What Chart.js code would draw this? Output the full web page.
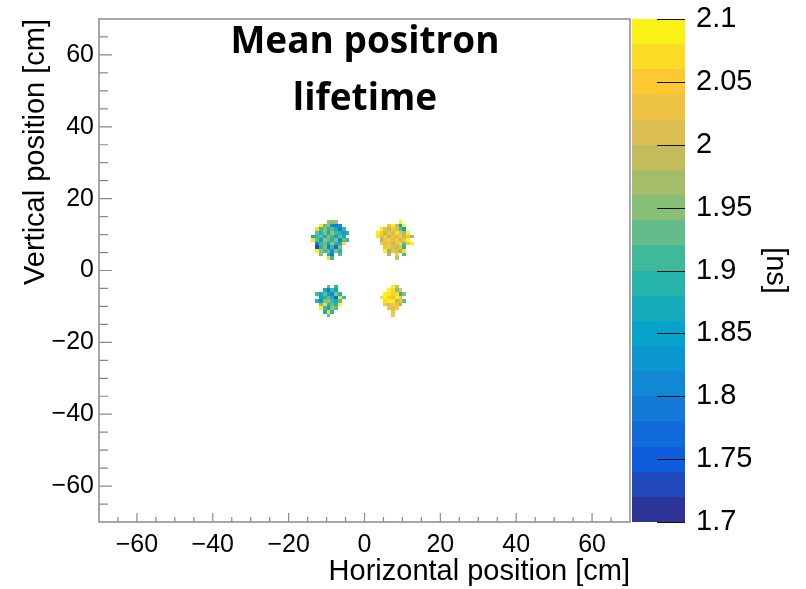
<!DOCTYPE html>
<html>
<head>
<meta charset="utf-8">
<script src="https://cdn.jsdelivr.net/npm/chart.js@4.4.0/dist/chart.umd.min.js"></script>
<style>
  html, body { margin: 0; padding: 0; background: #fff; }
</style>
</head>
<body>
<canvas id="mapa" width="806" height="589"></canvas>
<script>
// mean lifetime per 1 cm bin [ns], rows from top to bottom, null = empty bin
// origin = [left edge, top edge] of the first cell, in cm
const nwOrigin = [-14, 14];
const nwCells = [
  [null, null, null, null, 1.97, 1.95, 1.97, null, null, null],
  [null, null, 2.08, 1.92, 1.96, 1.80, 1.78, 1.82, null, null],
  [null, 2.07, 1.90, 1.94, 1.88, 1.93, 1.86, 1.79, 1.90, null],
  [null, 1.92, 1.88, 1.95, 1.86, 1.96, 1.91, 1.89, 1.84, 1.88],
  [1.86, 1.90, 1.93, 1.87, 1.95, 1.90, 1.85, 1.92, 1.87, null],
  [2.06, 1.92, 1.85, 1.96, 1.92, 1.88, 1.94, 1.80, 1.93, 1.90],
  [null, 1.78, 1.90, 1.93, 1.84, 1.97, 1.89, 1.86, 2.07, null],
  [null, 1.73, 1.88, 1.95, 1.79, 1.91, 1.76, 1.94, null, null],
  [null, 2.08, 1.96, 1.90, 1.93, 1.82, 1.95, 1.88, null, null],
  [null, null, 1.94, null, 1.88, 1.78, null, 1.92, null, null],
  [null, null, null, null, 2.07, 1.90, null, null, null, null]
];

const neOrigin = [3, 14];
const neCells = [
  [null, null, null, null, null, null, 2.09, null, null, null],
  [null, null, null, 2.03, 2.09, 1.99, 1.85, 2.08, null, null],
  [null, 2.08, 2.02, 1.98, 2.04, 2.01, 1.92, 1.84, null, null],
  [2.09, 2.05, 1.99, 2.03, 2.00, 2.06, 2.02, 1.97, 2.08, null],
  [2.07, 2.01, 2.04, 1.98, 2.03, 2.00, 2.05, 1.99, 2.02, 1.96],
  [null, 1.97, 2.02, 2.05, 2.01, 2.04, 1.98, 2.03, 2.09, null],
  [null, 2.04, 2.00, 2.03, 1.98, 2.02, 2.06, 1.93, 2.04, 2.08],
  [null, null, 2.02, 2.05, 2.01, 1.99, 2.03, 1.88, null, null],
  [null, null, 2.09, 1.95, 2.03, 2.01, 1.94, 2.07, null, null],
  [null, null, null, 1.96, null, 2.04, null, 1.91, null, null],
  [null, null, null, null, null, 2.00, null, null, null, null]
];

const swOrigin = [-13, -4];
const swCells = [
  [null, null, null, 1.92, null, 1.88, null, null],
  [null, null, 1.86, 1.78, 1.90, 1.84, null, null],
  [1.90, 1.87, 1.92, 1.85, 1.80, 1.94, 1.89, null],
  [null, 1.85, 1.88, 1.93, 1.87, 1.76, 2.07, 1.90],
  [1.88, 1.82, 1.95, 1.97, 1.90, 1.86, 1.92, null],
  [null, 1.95, 2.06, 1.89, 1.93, 1.88, 2.08, null],
  [null, 2.08, 1.90, 1.84, 1.96, 1.92, null, null],
  [null, null, 1.87, 2.07, 1.89, null, null, null],
  [null, null, null, 1.93, null, null, null, null]
];

const seOrigin = [4, -4];
const seCells = [
  [null, null, null, 2.08, 2.00, null, null],
  [null, null, 2.09, 2.06, 1.95, 2.03, null],
  [null, 2.08, 2.10, 2.04, 2.07, 1.88, 1.94],
  [2.07, 2.09, 2.05, 2.02, 2.08, 2.04, null],
  [null, 2.06, 2.09, 2.10, 1.98, 2.03, 1.92],
  [null, 2.04, 2.01, 2.05, 2.03, 1.97, null],
  [null, null, 2.03, 2.00, 2.05, null, null],
  [null, null, null, 2.02, null, null, null],
  [null, null, null, 2.04, null, null, null]
];

const axisTicks = [-60, -40, -20, 0, 20, 40, 60];
const zTicks = [1.7, 1.75, 1.8, 1.85, 1.9, 1.95, 2, 2.05, 2.1];
const zMin = 1.7, zMax = 2.1, zStep = 0.02;

// 20 contour colours, bottom (1.70) to top (2.10)
const palette = [
  '#2d3498', '#1e48bb', '#0f5cdd', '#116bda', '#137ad7',
  '#1188d4', '#0c96cf', '#06a4ca', '#16acbb', '#26b3ac',
  '#40b99b', '#63bc89', '#87bf77', '#a5bd6b', '#c2bc5f',
  '#dabe51', '#ecc342', '#fec832', '#fcdc24', '#faf115'
];

function colorFor(v) {
  let i = Math.floor((v - zMin) / zStep + 1e-9);
  i = Math.max(0, Math.min(palette.length - 1, i));
  return palette[i];
}

function toPoints(origin, rows) {
  const pts = [];
  rows.forEach((row, r) => row.forEach((v, c) => {
    if (v === null) return;
    pts.push({ x: origin[0] + c + 0.5, y: origin[1] - r - 0.5, v: v });
  }));
  return pts;
}

const puntos = [].concat(
  toPoints(nwOrigin, nwCells),
  toPoints(neOrigin, neCells),
  toPoints(swOrigin, swCells),
  toPoints(seOrigin, seCells)
);

const fmtMinus = v => (v < 0 ? '\u2212' + Math.abs(v) : String(v));
const axisFont = { family: 'Liberation Sans', size: 25 };
const titleFont = { family: 'Liberation Sans', size: 29 };
const zFont = { family: 'Liberation Sans', size: 29 };

// vertical axes: keep their label padding from pushing the plot area
const noPad = s => { s.paddingTop = 0; s.paddingBottom = 0; };

// cells of the 2D histogram, edges taken from the scales
const cellPlugin = {
  id: 'cells',
  beforeDatasetsDraw(chart) {
    const { ctx, scales: { x, y } } = chart;
    ctx.save();
    chart.data.datasets[0].data.forEach(p => {
      const x0 = Math.round(x.getPixelForValue(p.x - 0.5));
      const x1 = Math.round(x.getPixelForValue(p.x + 0.5));
      const y0 = Math.round(y.getPixelForValue(p.y + 0.5));
      const y1 = Math.round(y.getPixelForValue(p.y - 0.5));
      ctx.fillStyle = colorFor(p.v);
      ctx.fillRect(x0, y0, x1 - x0, y1 - y0);
    });
    ctx.restore();
  }
};

// frame, inward ticks, colour bar and the title
const framePlugin = {
  id: 'frame',
  afterDraw(chart) {
    const { ctx, chartArea: a, scales: { x, y, z } } = chart;
    ctx.save();
    ctx.strokeStyle = '#8a8a8a';
    ctx.lineWidth = 1.5;
    ctx.strokeRect(a.left, a.top, a.right - a.left, a.bottom - a.top);

    ctx.lineWidth = 1.2;
    ctx.beginPath();
    for (let v = -65; v <= 65; v += 5) {
      const major = v % 20 === 0;
      const px = x.getPixelForValue(v);
      ctx.moveTo(px, a.bottom);
      ctx.lineTo(px, a.bottom - (major ? 9 : 5));
      const py = y.getPixelForValue(v);
      ctx.moveTo(a.left, py);
      ctx.lineTo(a.left + (major ? 13 : 9), py);
    }
    ctx.stroke();

    // colour bar
    const barL = a.right + 2, barR = a.right + 55;
    palette.forEach((c, i) => {
      const t = Math.round(z.getPixelForValue(zMin + (i + 1) * zStep));
      const b = Math.round(z.getPixelForValue(zMin + i * zStep));
      ctx.fillStyle = c;
      ctx.fillRect(barL, t, barR - barL, b - t);
    });
    ctx.strokeStyle = '#111';
    ctx.lineWidth = 1;
    ctx.beginPath();
    zTicks.forEach(v => {
      const py = Math.round(z.getPixelForValue(v)) + 0.5;
      ctx.moveTo(barR - 28, py);
      ctx.lineTo(barR, py);
    });
    ctx.stroke();

    // title
    ctx.fillStyle = '#000';
    ctx.font = 'bold 37px "Open Sans"';
    ctx.textAlign = 'center';
    ctx.textBaseline = 'alphabetic';
    ctx.fillText('Mean positron', 365, 53);
    ctx.fillText('lifetime', 365, 110);
    ctx.restore();
  }
};

const ctx = document.getElementById('mapa').getContext('2d');
const mapa = new Chart(ctx, {
  type: 'scatter',
  data: {
    datasets: [{
      label: 'lifetime',
      data: puntos,
      pointRadius: 0,
      pointHoverRadius: 0,
      showLine: false
    }]
  },
  options: {
    responsive: false,
    animation: false,
    devicePixelRatio: 1,
    events: [],
    layout: { padding: { top: 19, left: 0, right: 0, bottom: 0 } },
    plugins: {
      legend: { display: false },
      tooltip: { enabled: false }
    },
    scales: {
      x: {
        type: 'linear',
        position: 'bottom',
        min: -70,
        max: 70,
        afterBuildTicks: s => { s.ticks = axisTicks.map(v => ({ value: v })); },
        afterFit: s => { s.height = 67; s.paddingLeft = 0; s.paddingRight = 0; },
        ticks: { callback: fmtMinus, font: axisFont, color: '#000', padding: 8, maxRotation: 0, autoSkip: false },
        grid: { display: false, drawTicks: false },
        border: { display: false },
        title: {
          display: true, text: 'Horizontal position [cm]', align: 'end',
          color: '#000', font: titleFont, padding: { top: 0, bottom: 0 }
        }
      },
      y: {
        type: 'linear',
        position: 'left',
        min: -70,
        max: 70,
        afterBuildTicks: s => { s.ticks = axisTicks.map(v => ({ value: v })); },
        afterFit: s => { s.width = 99; noPad(s); },
        ticks: { callback: fmtMinus, font: axisFont, color: '#000', padding: 5, autoSkip: false },
        grid: { display: false, drawTicks: false },
        border: { display: false },
        title: {
          display: true, text: 'Vertical position [cm]', align: 'end',
          color: '#000', font: titleFont, padding: { top: 19, bottom: 0 }
        }
      },
      z: {
        type: 'linear',
        position: 'right',
        min: zMin,
        max: zMax,
        afterBuildTicks: s => { s.ticks = zTicks.map(v => ({ value: v })); },
        afterFit: s => { s.width = 176; noPad(s); },
        ticks: {
          callback: v => String(Number(v.toFixed(2))),
          font: zFont, color: '#000', padding: 66, autoSkip: false
        },
        grid: { display: false, drawTicks: false },
        border: { display: false },
        title: {
          display: true, text: '[ns]', color: '#000',
          font: zFont, padding: { top: 14, bottom: 0 }
        }
      }
    }
  },
  plugins: [cellPlugin, framePlugin]
});
</script>
</body>
</html>
